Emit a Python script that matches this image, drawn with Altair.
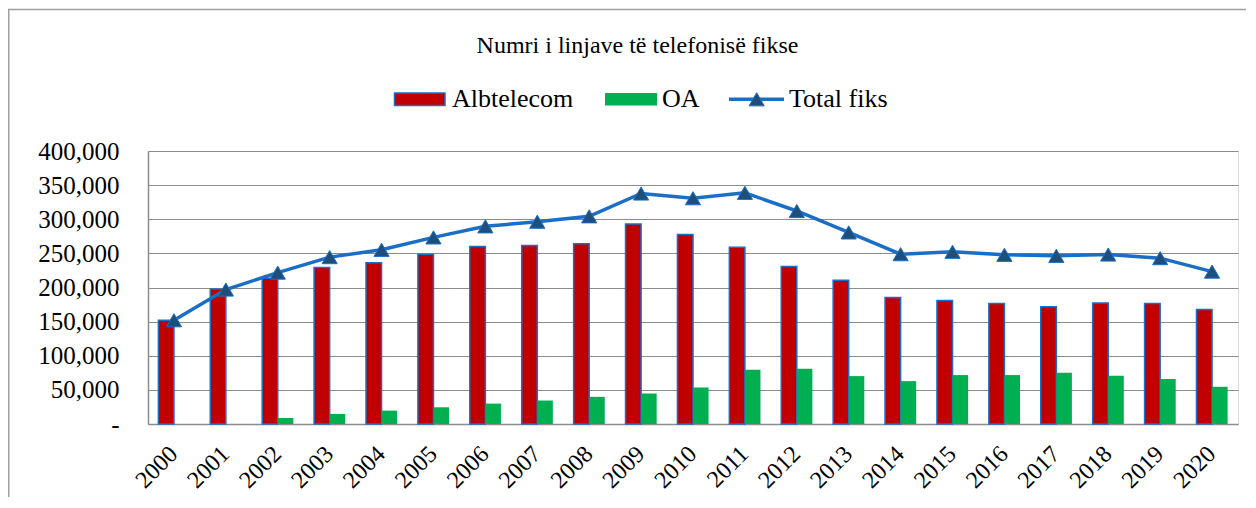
import altair as alt
import pandas as pd

# ---- data ----
years = [str(y) for y in range(2000, 2021)]
albtelecom = [152100, 197800, 213500, 229200, 236100, 248800, 260100, 261600, 264000, 293000,
              277800, 259100, 230700, 210600, 185500, 181100, 176700, 171800, 177200, 176700, 167900]
oa = [0, 0, 8800, 14700, 19600, 24500, 29900, 34400, 39800, 44700,
      53500, 79500, 81000, 70200, 62800, 71700, 71700, 75100, 70700, 65800, 54500]
total_fiks = [152000, 197000, 221800, 244500, 255200, 273400, 289600, 296400, 304300, 337700,
              330800, 338700, 312100, 280700, 248800, 252300, 247900, 246400, 248300, 243000, 223300]
series_names = ["Albtelecom", "OA", "Total fiks"]
y_tick_values = [0, 50000, 100000, 150000, 200000, 250000, 300000, 350000, 400000]
chart_title = "Numri i linjave të telefonisë fikse"

# ---- tables ----
bars_df = pd.DataFrame({
    "year": years * 2,
    "series": [series_names[0]] * len(years) + [series_names[1]] * len(years),
    "value": albtelecom + oa,
})
line_df = pd.DataFrame({"year": years, "value": total_fiks})

RED = "#C00000"
GREEN = "#00B050"
BLUE = "#1B6EC6"
NAVY = "#1F4E79"
GRID = "#8c8c8c"
FONT = "Liberation Serif"

x_enc = alt.X(
    "year:N", sort=years,
    scale=alt.Scale(paddingInner=0.4, paddingOuter=0.2),
    axis=alt.Axis(title=None, labelAngle=-45, labelAlign="right", labelBaseline="middle",
                  labelFont=FONT, labelFontSize=24, labelColor="#000000", labelPadding=26,
                  ticks=False, grid=False, domainColor=GRID, domainWidth=1.5),
)
y_enc = alt.Y(
    "value:Q",
    scale=alt.Scale(domain=[0, 400000], nice=False),
    axis=alt.Axis(title=None, values=y_tick_values,
                  labelExpr="datum.value == 0 ? '-\u00a0\u00a0' : format(datum.value, ',')",
                  labelFont=FONT, labelFontSize=25, labelColor="#000000", labelPadding=29,
                  ticks=False, grid=True, gridColor=GRID, gridWidth=1,
                  domainColor=GRID, domainWidth=1.5),
)

bars = alt.Chart(bars_df).mark_bar().encode(
    x=x_enc,
    y=y_enc,
    xOffset=alt.XOffset("series:N", sort=series_names[:2],
                        scale=alt.Scale(domain=series_names[:2], paddingInner=0, paddingOuter=0)),
    fill=alt.Fill("series:N", scale=alt.Scale(domain=series_names[:2], range=[RED, GREEN]),
                  legend=None),
    stroke=alt.condition(alt.datum.series == series_names[0], alt.value(BLUE), alt.value("transparent")),
    strokeWidth=alt.value(1.5),
)

line = alt.Chart(line_df).mark_line(color=BLUE, strokeWidth=3.5).encode(x=x_enc, y=y_enc)
points = alt.Chart(line_df).mark_point(
    shape="triangle-up", size=230, filled=True, fill=NAVY, stroke=BLUE, strokeWidth=1, opacity=1
).encode(x=x_enc, y=y_enc)

one = alt.Data(values=[{"k": 0}])

frame = alt.Chart(one).mark_rect(fill="transparent", stroke="#a0a0a0", strokeWidth=1.5).encode(
    x=alt.value(-139.25), x2=alt.value(1300), y=alt.value(-141.5), y2=alt.value(700))

title = alt.Chart(one).mark_text(font=FONT, fontSize=24, align="center", baseline="alphabetic",
                                 color="#000000").encode(
    x=alt.value(489.5), y=alt.value(-98.3), text=alt.value(chart_title))

leg_rect1 = alt.Chart(one).mark_rect(fill=RED, stroke=BLUE, strokeWidth=1.5).encode(
    x=alt.value(246.5), x2=alt.value(297), y=alt.value(-58), y2=alt.value(-45.5))
leg_text1 = alt.Chart(one).mark_text(font=FONT, fontSize=26, align="left", baseline="alphabetic",
                                     color="#000000").encode(
    x=alt.value(304), y=alt.value(-43.7), text=alt.value(series_names[0]))
leg_rect2 = alt.Chart(one).mark_rect(fill=GREEN).encode(
    x=alt.value(457), x2=alt.value(509), y=alt.value(-58), y2=alt.value(-45.5))
leg_text2 = alt.Chart(one).mark_text(font=FONT, fontSize=26, align="left", baseline="alphabetic",
                                     color="#000000").encode(
    x=alt.value(514), y=alt.value(-43.7), text=alt.value(series_names[1]))
leg_line = alt.Chart(one).mark_rule(color=BLUE, strokeWidth=3.5).encode(
    x=alt.value(581), x2=alt.value(636), y=alt.value(-51.7))
leg_point = alt.Chart(one).mark_point(shape="triangle-up", size=230, filled=True, fill=NAVY,
                                      stroke=BLUE, strokeWidth=1, opacity=1).encode(
    x=alt.value(608.7), y=alt.value(-51.7))
leg_text3 = alt.Chart(one).mark_text(font=FONT, fontSize=26, align="left", baseline="alphabetic",
                                     color="#000000").encode(
    x=alt.value(641), y=alt.value(-43.7), text=alt.value(series_names[2]))

chart = alt.layer(
    frame, bars, line, points, title,
    leg_rect1, leg_text1, leg_rect2, leg_text2, leg_line, leg_point, leg_text3,
).properties(
    width=1090, height=273,
    padding={"left": 140, "top": 143, "right": 8, "bottom": 73},
    autosize=alt.AutoSizeParams(type="none"),
).configure_view(stroke=None).configure_axis(labelFont=FONT).configure_text(font=FONT).configure(background="#ffffff")

chart.save("out.html", embed_options={"renderer": "svg", "actions": False})
